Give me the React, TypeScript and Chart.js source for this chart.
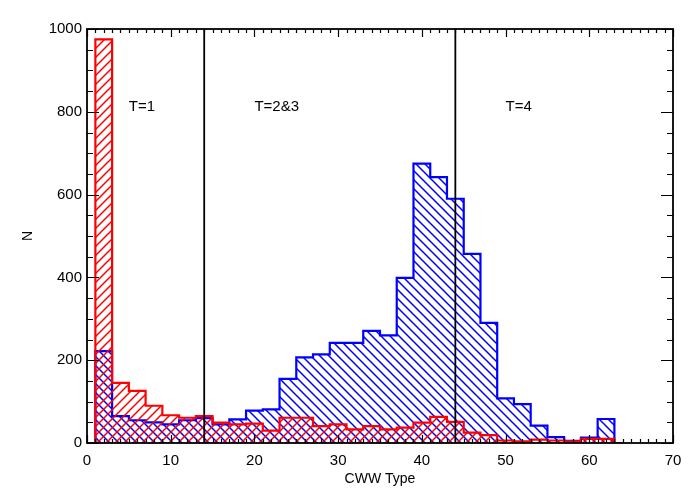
import React, { useEffect, useRef } from "react";
import { Chart, registerables } from "chart.js";

Chart.register(...registerables);

// Histogram bins (left edges), width 2
const binStarts = [1, 3, 5, 7, 9, 11, 13, 15, 17, 19, 21, 23, 25, 27, 29, 31, 33, 35, 37, 39, 41, 43, 45, 47, 49, 51, 53, 55, 57, 59, 61];
const binWidth = 2;
const blueCounts = [222, 65, 55, 50, 45, 55, 60, 45, 57, 78, 81, 155, 207, 214, 242, 242, 271, 260, 399, 675, 642, 590, 457, 290, 108, 94, 42, 14, 5, 13, 58];
const redCounts = [975, 145, 126, 90, 67, 61, 65, 49, 45, 47, 30, 61, 61, 41, 45, 33, 41, 33, 37, 49, 63, 51, 25, 19, 6, 4, 8, 6, 4, 10, 10];
const outlineStart = 0;
const outlineEnd = 64;

const dividerX = [14, 44];
const regionLabels = ["T=1", "T=2&3", "T=4"];
const regionLabelX = [5, 20, 50];
const regionLabelY = [812, 812, 812];

const xTickLabels = [0, 10, 20, 30, 40, 50, 60, 70];
const yTickLabels = [0, 200, 400, 600, 800, 1000];

const FONT = '"Liberation Sans", Arial, Helvetica, sans-serif';

function buildPoints(counts: number[]) {
  const pts: { x: number; y: number }[] = [{ x: outlineStart, y: 0 }];
  binStarts.forEach((s, i) => pts.push({ x: s, y: counts[i] }));
  pts.push({ x: binStarts[binStarts.length - 1] + binWidth, y: 0 });
  pts.push({ x: outlineEnd, y: 0 });
  return pts;
}

function makeHatch(color: string, dir: "up" | "down", size: number) {
  const c = document.createElement("canvas");
  c.width = size;
  c.height = size;
  const g = c.getContext("2d")!;
  g.strokeStyle = color;
  g.lineWidth = 1.5;
  g.beginPath();
  if (dir === "up") {
    g.moveTo(-1, size + 1);
    g.lineTo(size + 1, -1);
    g.moveTo(-1, 1);
    g.lineTo(1, -1);
    g.moveTo(size - 1, size + 1);
    g.lineTo(size + 1, size - 1);
  } else {
    g.moveTo(-1, -1);
    g.lineTo(size + 1, size + 1);
    g.moveTo(-1, size - 1);
    g.lineTo(1, size + 1);
    g.moveTo(size - 1, -1);
    g.lineTo(size + 1, 1);
  }
  g.stroke();
  return g.createPattern(c, "repeat")!;
}

const decorPlugin = {
  id: "decor",
  afterDatasetsDraw(chart: any) {
    const { ctx, chartArea, scales } = chart;
    const { left, right, top, bottom } = chartArea;
    const x = scales.x;
    const y = scales.y;
    ctx.save();
    ctx.strokeStyle = "#000";

    // divider lines
    ctx.lineWidth = 1.8;
    dividerX.forEach((v) => {
      const px = x.getPixelForValue(v);
      ctx.beginPath();
      ctx.moveTo(px, top);
      ctx.lineTo(px, bottom);
      ctx.stroke();
    });

    // ticks
    ctx.lineWidth = 1.2;
    const xMin = xTickLabels[0];
    const xMax = xTickLabels[xTickLabels.length - 1];
    for (let v = xMin; v <= xMax; v += 1) {
      const major = v % 10 === 0;
      const len = major ? 8 : 4;
      const px = Math.round(x.getPixelForValue(v)) + 0.5;
      ctx.beginPath();
      ctx.moveTo(px, bottom);
      ctx.lineTo(px, bottom - len);
      ctx.moveTo(px, top);
      ctx.lineTo(px, top + len);
      ctx.stroke();
    }
    const yMax = yTickLabels[yTickLabels.length - 1];
    for (let v = 0; v <= yMax; v += 50) {
      const major = v % 200 === 0;
      const len = major ? 12 : 6;
      const py = Math.round(y.getPixelForValue(v)) + 0.5;
      ctx.beginPath();
      ctx.moveTo(left, py);
      ctx.lineTo(left + len, py);
      ctx.moveTo(right, py);
      ctx.lineTo(right - len, py);
      ctx.stroke();
    }

    // frame
    ctx.lineWidth = 1.8;
    ctx.strokeRect(left, top, right - left, bottom - top);

    // region labels
    ctx.fillStyle = "#000";
    ctx.font = "15px " + FONT;
    ctx.textAlign = "left";
    ctx.textBaseline = "middle";
    regionLabels.forEach((t, i) => {
      ctx.fillText(t, x.getPixelForValue(regionLabelX[i]), y.getPixelForValue(regionLabelY[i]));
    });
    ctx.restore();
  },
};

export default function App() {
  const ref = useRef<HTMLCanvasElement>(null);

  useEffect(() => {
    const canvas = ref.current!;
    const redHatch = makeHatch("#ff0000", "up", 9);
    const blueHatch = makeHatch("#0000ff", "down", 9);

    const chart = new Chart(canvas, {
      type: "line",
      data: {
        datasets: [
          {
            label: "red",
            data: buildPoints(redCounts),
            stepped: "before",
            borderColor: "#ff0000",
            borderWidth: 2.2,
            backgroundColor: redHatch,
            fill: "origin",
            pointRadius: 0,
            tension: 0,
          },
          {
            label: "blue",
            data: buildPoints(blueCounts),
            stepped: "before",
            borderColor: "#0000ff",
            borderWidth: 2.2,
            backgroundColor: blueHatch,
            fill: "origin",
            pointRadius: 0,
            tension: 0,
          },
        ],
      } as any,
      options: {
        responsive: false,
        animation: false,
        devicePixelRatio: 1,
        layout: { padding: { top: 29, right: 27, left: 0, bottom: 0 } },
        plugins: {
          legend: { display: false },
          tooltip: { enabled: false },
        },
        scales: {
          x: {
            type: "linear",
            min: xTickLabels[0],
            max: xTickLabels[xTickLabels.length - 1],
            grid: { display: false, drawTicks: false },
            border: { display: false },
            ticks: {
              stepSize: 10,
              color: "#000",
              font: { family: FONT, size: 15 },
              padding: 9,
              maxRotation: 0,
              callback: (v: any) => String(v),
            },
            title: {
              display: true,
              text: "CWW Type",
              color: "#000",
              font: { family: FONT, size: 14 },
              padding: { top: 0, bottom: 12 },
            },
            afterFit: (s: any) => {
              s.height = 57;
            },
          },
          y: {
            type: "linear",
            min: yTickLabels[0],
            max: yTickLabels[yTickLabels.length - 1],
            grid: { display: false, drawTicks: false },
            border: { display: false },
            ticks: {
              stepSize: 200,
              color: "#000",
              font: { family: FONT, size: 15 },
              padding: 5,
              callback: (v: any) => String(v),
            },
            title: {
              display: true,
              text: "N",
              color: "#000",
              font: { family: FONT, size: 14 },
              padding: { top: 20, bottom: 0 },
            },
            afterFit: (s: any) => {
              s.width = 87;
            },
          },
        },
      } as any,
      plugins: [decorPlugin],
    });
    return () => chart.destroy();
  }, []);

  return (
    <div style={{ position: "absolute", left: 0, top: 0, width: 700, height: 500, background: "#fff" }}>
      <canvas ref={ref} width={700} height={500} style={{ display: "block" }} />
    </div>
  );
}
